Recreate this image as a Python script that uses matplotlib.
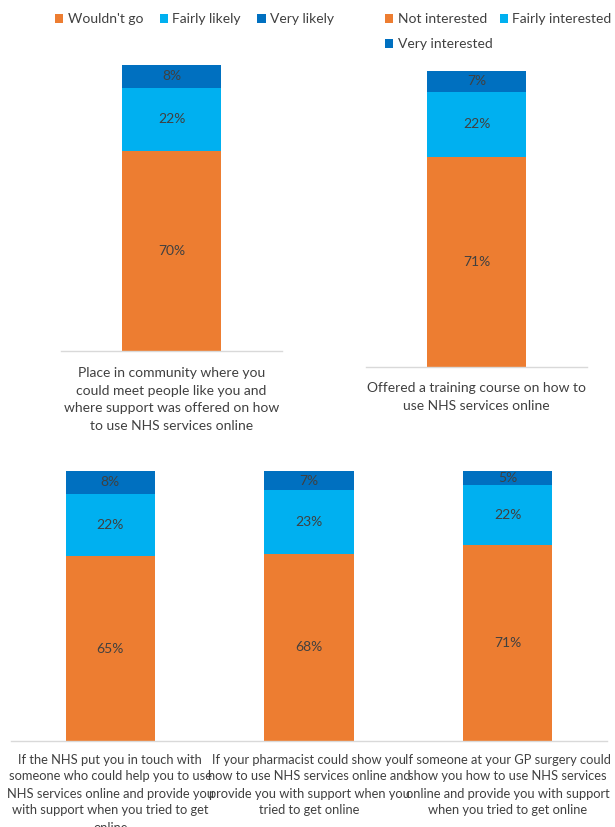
import matplotlib.pyplot as plt
import numpy as np

plt.rcParams['font.family'] = ['Lato', 'DejaVu Sans']

ORANGE = '#ED7D31'
LIGHT = '#00B0F0'
DARK = '#0070C0'
TEXT = '#404040'
AXIS = '#D9D9D9'

W, H = 615, 827

# community hub question
community_labels = ['Place in community where you\ncould meet people like you and\n'
                    'where support was offered on how\nto use NHS services online']
community_names = ["Wouldn't go", 'Fairly likely', 'Very likely']
community_wouldnt = [70]
community_fairly = [22]
community_very = [8]

# training course question
course_labels = ['Offered a training course on how to\nuse NHS services online']
course_names = ['Not interested', 'Fairly interested', 'Very interested']
course_not = [71]
course_fairly = [22]
course_very = [7]

# one-to-one support questions
support_labels = [
    'If the NHS put you in touch with\nsomeone who could help you to use\n'
    'NHS services online and provide you\nwith support when you tried to get\nonline',
    'If your pharmacist could show you\nhow to use NHS services online and\n'
    'provide you with support when you\ntried to get online',
    'If someone at your GP surgery could\nshow you how to use NHS services\n'
    'online and provide you with support\nwhen you tried to get online',
]
support_not = [65, 68, 71]
support_fairly = [22, 23, 22]
support_very = [8, 7, 5]


def px_axes(fig, left, top, right, bottom):
    return fig.add_axes([left / W, 1 - bottom / H, (right - left) / W, (bottom - top) / H])


def stacked(ax, labels, series, names, pad, linespacing, labelsize):
    x = np.arange(len(labels))
    totals = np.sum(series, axis=0)
    base = np.zeros(len(labels))
    for vals, color, name in zip(series, [ORANGE, LIGHT, DARK], names):
        share = np.array(vals) / totals
        bars = ax.bar(x, share, 0.45, bottom=base, color=color, label=name)
        ax.bar_label(bars, labels=[f'{v}%' for v in vals], label_type='center',
                     color=TEXT, fontsize=10)
        base += share
    ax.set_xlim(-0.5, len(labels) - 0.5)
    ax.set_ylim(0, 1)
    ax.set_xticks(x, labels)
    ax.set_yticks([])
    ax.tick_params(axis='x', length=0, pad=pad, labelsize=labelsize, labelcolor=TEXT)
    plt.setp(ax.get_xticklabels(), linespacing=linespacing)
    for side in ['top', 'left', 'right']:
        ax.spines[side].set_visible(False)
    ax.spines['bottom'].set_color(AXIS)
    ax.spines['bottom'].set_linewidth(1.0)


fig = plt.figure(figsize=(W / 100, H / 100), dpi=100)

ax1 = px_axes(fig, 61, 65, 282, 351)
stacked(ax1, community_labels, [community_wouldnt, community_fairly, community_very],
        community_names, pad=11.5, linespacing=1.57, labelsize=10)

ax2 = px_axes(fig, 366, 71, 587, 367)
stacked(ax2, course_labels, [course_not, course_fairly, course_very],
        course_names, pad=11, linespacing=1.57, labelsize=10)

ax3 = px_axes(fig, 11, 471, 607, 741)
stacked(ax3, support_labels, [support_not, support_fairly, support_very],
        course_names, pad=9, linespacing=1.5, labelsize=9.3)

leg_kw = dict(frameon=False, fontsize=10, labelcolor=TEXT, handlelength=0.6,
              handleheight=0.6, handletextpad=0.3,
              borderpad=0, borderaxespad=0, bbox_transform=fig.transFigure)

h1, l1 = ax1.get_legend_handles_labels()
ax1.legend(h1, l1, ncol=3, loc='upper left', columnspacing=1.2,
           bbox_to_anchor=(55 / W, 1 - 13 / H), **leg_kw)

h2, l2 = ax2.get_legend_handles_labels()
order = [0, 2, 1]
ax2.legend([h2[i] for i in order], [l2[i] for i in order], ncol=2, loc='upper left',
           columnspacing=0.55, labelspacing=0.97,
           bbox_to_anchor=(385 / W, 1 - 13 / H), **leg_kw)

fig.savefig('out.png', dpi=100)
